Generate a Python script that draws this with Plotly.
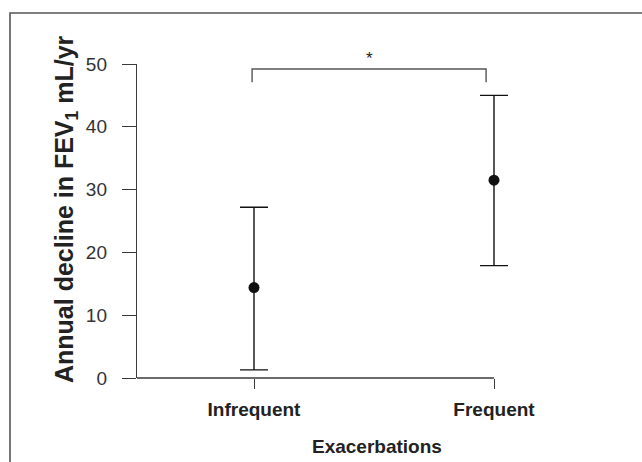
import plotly.graph_objects as go

categories = ["Infrequent", "Frequent"]
means = [14.4, 31.5]
lower = [1.3, 17.9]
upper = [27.2, 45.0]
y_ticks = [0, 10, 20, 30, 40, 50]
sig_label = "*"
bracket_level = 49.2
bracket_drop = 2.1

xpos = list(range(len(categories)))
err_plus = [u - m for u, m in zip(upper, means)]
err_minus = [m - l for m, l in zip(means, lower)]

FONT = "Liberation Sans, Arial, Helvetica, sans-serif"
TXT = "#222222"
LINE = "#3a3a3a"

fig = go.Figure()
fig.add_trace(go.Scatter(
    x=xpos, y=means, mode="markers",
    marker=dict(color="#111111", size=11),
    error_y=dict(type="data", symmetric=False, array=err_plus, arrayminus=err_minus,
                 color="#111111", thickness=1.4, width=14),
    cliponaxis=False, showlegend=False, hoverinfo="skip",
))

xr = [-0.4875, 1.275]
fig.update_layout(
    width=642, height=462,
    margin=dict(l=137, r=82, t=64, b=84),
    paper_bgcolor="white", plot_bgcolor="white",
    font=dict(family=FONT, color=TXT),
    xaxis=dict(range=xr, tickvals=xpos, ticktext=[f"<b>{c}</b>" for c in categories],
               ticks="outside", ticklen=10, tickwidth=1.4, tickcolor=LINE,
               showline=False, showgrid=False, zeroline=False,
               tickfont=dict(size=19, color=TXT), ticklabelstandoff=4, fixedrange=True),
    yaxis=dict(range=[0, 50], tickvals=y_ticks, ticks="outside", ticklen=14,
               tickwidth=1.4, tickcolor=LINE, showline=True, linecolor=LINE, linewidth=1.4,
               showgrid=False, zeroline=False, tickfont=dict(size=19, color="#333333"),
               ticklabelstandoff=11, fixedrange=True),
)

# x axis line from left edge to last category
fig.add_shape(type="line", xref="x", yref="paper", x0=xr[0], x1=xpos[-1], y0=0, y1=0,
              line=dict(color=LINE, width=1.4))

# significance bracket
bx0, bx1 = xpos[0] - 0.008, xpos[1] - 0.033
fig.add_shape(type="path", xref="x", yref="y",
              path=f"M {bx0} {bracket_level - bracket_drop} L {bx0} {bracket_level} "
                   f"L {bx1} {bracket_level} L {bx1} {bracket_level - bracket_drop}",
              line=dict(color="#555555", width=1.4))
fig.add_annotation(x=(bx0 + bx1) / 2, y=bracket_level, xref="x", yref="y",
                   text=sig_label, showarrow=False, yanchor="bottom", yshift=-1,
                   font=dict(size=17, color=TXT))

# frame
fig.add_shape(type="rect", xref="paper", yref="paper",
              x0=(10 - 137) / 423, x1=(700 - 137) / 423,
              y0=(378 - 500) / 314, y1=(378 - 13) / 314,
              line=dict(color="#555555", width=1.6), layer="below")

# axis titles
fig.add_annotation(x=(66 - 137) / 423, y=(378 - 209) / 314, xref="paper", yref="paper",
                   text="<b>Annual decline in FEV<sub>1</sub> mL/yr</b>", textangle=-90,
                   showarrow=False, font=dict(size=25, color=TXT),
                   xanchor="center", yanchor="middle")
fig.add_annotation(x=(377 - 137) / 423, y=(378 - 446) / 314, xref="paper", yref="paper",
                   text="<b>Exacerbations</b>", showarrow=False,
                   font=dict(size=19, color=TXT), xanchor="center", yanchor="middle")

fig.write_html("out.html")
